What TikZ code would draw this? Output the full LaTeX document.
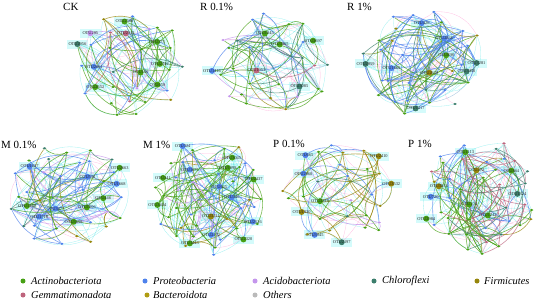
\documentclass[tikz,border=0pt]{standalone}
\usepackage{fontspec}
\setmainfont{Liberation Serif}
\usetikzlibrary{shapes.geometric}
\pgfdeclarelayer{bg}
\pgfdeclarelayer{edges}
\pgfsetlayers{bg,edges,main}
\definecolor{ac}{RGB}{70,160,20}
\definecolor{pr}{RGB}{78,130,236}
\definecolor{acd}{RGB}{196,150,236}
\definecolor{ch}{RGB}{60,126,108}
\definecolor{fi}{RGB}{150,134,12}
\definecolor{gm}{RGB}{190,100,125}
\definecolor{bc}{RGB}{176,156,18}
\definecolor{ot}{RGB}{186,186,186}
\definecolor{ecyan}{RGB}{60,225,225}
\definecolor{epink}{RGB}{255,130,200}
\definecolor{glow}{RGB}{205,250,250}

\tikzset{
  otu/.style={ellipse, inner sep=0pt, minimum width=3.6bp, minimum height=2.3bp},
  bigotu/.style={circle, inner sep=0pt, minimum size=6bp},
  otulabel/.style={font=\rmfamily\fontsize{4.4}{5}\selectfont, inner sep=0.4pt, text=black!85},
  glowbox/.style={fill=glow, minimum width=21bp, minimum height=9bp, inner sep=0pt, opacity=0.85},
  link/.style={line width=0.6bp, opacity=0.75},
  faint/.style={line width=0.3bp, opacity=0.5},
  paneltitle/.style={font=\rmfamily\fontsize{11}{12}\selectfont, anchor=west, inner sep=0pt},
  legtext/.style={font=\rmfamily\itshape\fontsize{10.5}{12}\selectfont, anchor=west, inner sep=0pt},
  legdot/.style={circle, inner sep=0pt, minimum size=5bp},
}

\newcommand\palCK[1]{\ifcase#1 ac\or ac\or ac\or ac\or pr\or pr\or ch\or acd\or gm\or fi\else ac\fi}
\newcommand\palRa[1]{\ifcase#1 ac\or ac\or ac\or ac\or pr\or pr\or acd\or gm\or ch\or fi\else ac\fi}
\newcommand\palRb[1]{\ifcase#1 pr\or pr\or pr\or pr\or pr\or pr\or ac\or ac\or fi\or ch\else pr\fi}
\newcommand\palMa[1]{\ifcase#1 ac\or ac\or ac\or ac\or pr\or pr\or pr\or fi\or acd\or ch\else ac\fi}
\newcommand\palMb[1]{\ifcase#1 ac\or ac\or ac\or ac\or ac\or pr\or pr\or pr\or acd\or fi\else ac\fi}
\newcommand\palPa[1]{\ifcase#1 pr\or pr\or pr\or ac\or ac\or fi\or fi\or acd\or ch\or ac\else pr\fi}
\newcommand\palPb[1]{\ifcase#1 pr\or pr\or pr\or pr\or ac\or ac\or ac\or fi\or ch\or gm\else pr\fi}

% #1 prefix, #2 cx, #3 cy, #4 rx, #5 ry, #6 seed, #7 number of nodes, #8 palette, #9 number of links
\newcommand\netpanel[9]{%
  \pgfmathsetseed{#6}%
  \pgfmathsetmacro\rot{rnd*360}%
  \xdef\lablist{-999/-999}%
  \foreach \i in {1,...,#7}{%
    \pgfmathsetmacro\ang{\rot+\i*137.508+rnd*24}%
    \pgfmathsetmacro\rad{min(1,((\i-0.3)/#7)^0.4*0.93+rnd*0.08)}%
    \pgfmathsetmacro\px{#2+#4*\rad*cos(\ang)}%
    \pgfmathsetmacro\py{#3+#5*\rad*sin(\ang)}%
    \pgfmathtruncatemacro\ci{random(0,9)}%
    \edef\cc{#8{\ci}}%
    \expandafter\xdef\csname nc#1\i\endcsname{\cc}%
    \pgfmathtruncatemacro\isbig{rnd<0.36 ? 1 : 0}%
    \gdef\clash{0}%
    \ifnum\isbig=1
      \foreach \qx/\qy in \lablist {%
        \pgfmathtruncatemacro\hit{(abs(\qx-\px)<24) && (abs(\qy-\py)<8) ? 1 : 0}%
        \ifnum\hit=1 \gdef\clash{1}\fi
      }%
    \fi
    \ifnum\clash=1 \def\isbig{0}\fi
    \ifnum\isbig=1
      \xdef\lablist{\lablist,\px/\py}%
      \pgfmathtruncatemacro\num{random(100,3999)}%
      \begin{pgfonlayer}{bg}
        \node[glowbox] (#1g\i) at (\px,\py) {};
      \end{pgfonlayer}
      \node[bigotu, fill=\cc] (#1\i) at (\px,\py) {};
      \node[otulabel] (#1t\i) at (\px,\py) {OTU\num};
    \else
      \node[otu, fill=\cc] (#1\i) at (\px,\py) {};
    \fi
  }%
  \begin{pgfonlayer}{bg}
  \foreach \e in {1,...,#9}{%
    \pgfmathtruncatemacro\a{random(1,#7)}%
    \pgfmathtruncatemacro\b{random(1,#7)}%
    \ifnum\a=\b \pgfmathtruncatemacro\b{mod(\a,#7)+1}\fi
    \pgfmathtruncatemacro\fc{random(0,2)}%
    \ifnum\fc=0 \def\fcol{epink}\else\def\fcol{ecyan}\fi
    \draw[faint, draw=\fcol] (#1\a) to[bend left=32] (#1\b);
  }%
  \end{pgfonlayer}
  \begin{pgfonlayer}{edges}
  \foreach \e in {1,...,#9}{%
    \pgfmathtruncatemacro\a{random(1,#7)}%
    \pgfmathtruncatemacro\b{random(1,#7)}%
    \ifnum\a=\b \pgfmathtruncatemacro\b{mod(\a,#7)+1}\fi
    \edef\ec{\csname nc#1\a\endcsname}%
    \draw[link, draw=\ec] (#1\a) to[bend left=30] (#1\b);
  }%
  \end{pgfonlayer}
}

\begin{document}
\begin{tikzpicture}[x=1bp, y=-1bp]
\useasboundingbox (0,0) rectangle (550,301);

% panel titles
\node[paneltitle] (tCK) at (63,7) {CK};
\node[paneltitle] (tRa) at (200,7) {R 0.1\%};
\node[paneltitle] (tRb) at (347,7) {R 1\%};
\node[paneltitle] (tMa) at (1,145) {M 0.1\%};
\node[paneltitle] (tMb) at (143,145) {M 1\%};
\node[paneltitle] (tPa) at (273,144) {P 0.1\%};
\node[paneltitle] (tPb) at (408,144) {P 1\%};

% networks
\netpanel{A}{130}{65}{59}{55}{11}{34}{\palCK}{58}
\netpanel{B}{272}{63}{63}{55}{23}{30}{\palRa}{55}
\netpanel{C}{422}{61}{63}{56}{37}{38}{\palRb}{80}
\netpanel{D}{68}{195}{63}{56}{41}{40}{\palMa}{70}
\netpanel{E}{208}{197}{60}{58}{59}{50}{\palMb}{90}
\netpanel{F}{340}{195}{58}{56}{67}{32}{\palPa}{50}
\netpanel{G}{480}{196}{61}{58}{79}{46}{\palPb}{90}

% legend
\node[legdot, fill=ac]  (l1) at (23,281) {};
\node[legtext] (lt1) at (31,281) {Actinobacteriota};
\node[legdot, fill=pr]  (l2) at (145,281) {};
\node[legtext] (lt2) at (153,281) {Proteobacteria};
\node[legdot, fill=acd] (l3) at (255,281) {};
\node[legtext] (lt3) at (263,281) {Acidobacteriota};
\node[legdot, fill=ch]  (l4) at (374,281) {};
\node[legtext] (lt4) at (382,281) {Chloroflexi};
\node[legdot, fill=fi]  (l5) at (477,281) {};
\node[legtext] (lt5) at (484,281) {Firmicutes};
\node[legdot, fill=gm]  (l6) at (23,295) {};
\node[legtext] (lt6) at (31,295) {Gemmatimonadota};
\node[legdot, fill=bc]  (l7) at (147,295) {};
\node[legtext] (lt7) at (153,295) {Bacteroidota};
\node[legdot, fill=ot]  (l8) at (255,295) {};
\node[legtext] (lt8) at (263,295) {Others};
\end{tikzpicture}
\end{document}
